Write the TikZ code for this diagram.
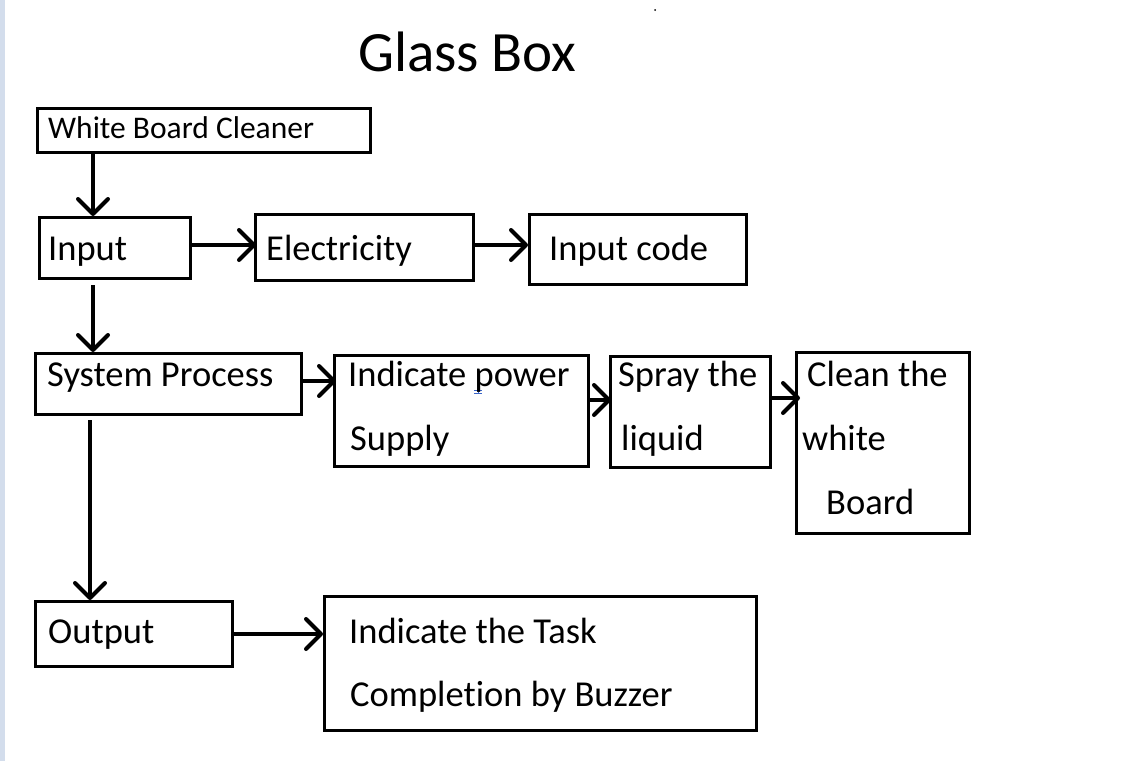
\documentclass[tikz,border=0pt]{standalone}
\usepackage{fontspec}
\setmainfont{Carlito}[Ligatures=NoCommon]
\usetikzlibrary{arrows.meta}
\definecolor{stripcol}{HTML}{D3DDEC}
\definecolor{markblue}{HTML}{3A64C8}
\begin{document}
\begin{tikzpicture}[x=1pt,y=-1pt,
  box/.style={draw=black, line width=3.2pt, anchor=north west, inner sep=0pt},
  txt/.style={anchor=base west, inner sep=0pt, font=\fontsize{36.5}{40}\selectfont},
  arr/.style={draw=black, line width=3.2pt, -{Straight Barb[length=15pt,width=30pt,line width=4pt,round]}}
]
\useasboundingbox (0,0) rectangle (1143,761);
\fill[white] (0,0) rectangle (1143,761);
\fill[stripcol] (0,0) rectangle (5,761);
% tiny marks
\fill[black] (655,10) circle (1pt);
\draw[markblue, line width=1pt] (474,390) -- (482,390) (474,393.5) -- (482,393.5) (478,390) -- (478,393.5);

% title
\node[anchor=base west, inner sep=0pt, font=\fontsize{57}{60}\selectfont] (title) at (358,71) {Glass Box};

% boxes
\node[box, minimum width=333, minimum height=44] (wbc) at (36,107) {};
\node[box, minimum width=151, minimum height=61] (inp) at (38,216) {};
\node[box, minimum width=218, minimum height=66] (elec) at (254,213) {};
\node[box, minimum width=217, minimum height=70] (code) at (528,213) {};
\node[box, minimum width=266, minimum height=61] (sys) at (34,352) {};
\node[box, minimum width=254, minimum height=111] (pow) at (333,354) {};
\node[box, minimum width=160, minimum height=111] (spray) at (609,355) {};
\node[box, minimum width=173, minimum height=181] (clean) at (795,351) {};
\node[box, minimum width=197, minimum height=65] (outp) at (34,600) {};
\node[box, minimum width=432, minimum height=134] (task) at (323,595) {};

% texts
\node[anchor=base west, inner sep=0pt, font=\fontsize{31.5}{34}\selectfont] (wbc-t) at (48,138) {White Board Cleaner};
\node[txt] (inp-t) at (48,260) {Input};
\node[txt] (elec-t) at (266,260) {Electricity};
\node[txt] (code-t) at (549,260) {Input code};
\node[txt] (sys-t) at (47,386) {System Process};
\node[txt] (pow-t1) at (348,386) {Indicate power};
\node[txt] (pow-t2) at (350,450) {Supply};
\node[txt] (spray-t1) at (618,386) {Spray the};
\node[txt] (spray-t2) at (621,450) {liquid};
\node[txt] (clean-t1) at (807,386) {Clean the};
\node[txt] (clean-t2) at (802,450) {white};
\node[txt] (clean-t3) at (826,514) {Board};
\node[txt] (outp-t) at (48,643) {Output};
\node[txt] (task-t1) at (349,643) {Indicate the Task};
\node[txt] (task-t2) at (350,706) {Completion by Buzzer};

% connectors
\draw[arr] ([xshift=57pt]wbc.south west) -- ([xshift=55pt]inp.north west);
\draw[arr] ([shift={(55pt,-5pt)}]inp.south west) -- ([xshift=59pt]sys.north west);
\draw[arr] ([shift={(56pt,-4pt)}]sys.south west) -- ([xshift=56pt]outp.north west);
\draw[arr] ([yshift=-29pt]inp.north east) -- ([shift={(2pt,-32pt)}]elec.north west);
\draw[arr] ([yshift=-32pt]elec.north east) -- ([yshift=-32pt]code.north west);
\draw[arr] ([yshift=-29pt]sys.north east) -- ([shift={(3pt,-27pt)}]pow.north west);
\draw[arr] ([yshift=-46pt]pow.north east) -- ([shift={(2pt,-45pt)}]spray.north west);
\draw[arr] ([yshift=-43pt]spray.north east) -- ([shift={(5pt,-47pt)}]clean.north west);
\draw[arr] ([yshift=-34pt]outp.north east) -- ([yshift=-39pt]task.north west);
\end{tikzpicture}
\end{document}
